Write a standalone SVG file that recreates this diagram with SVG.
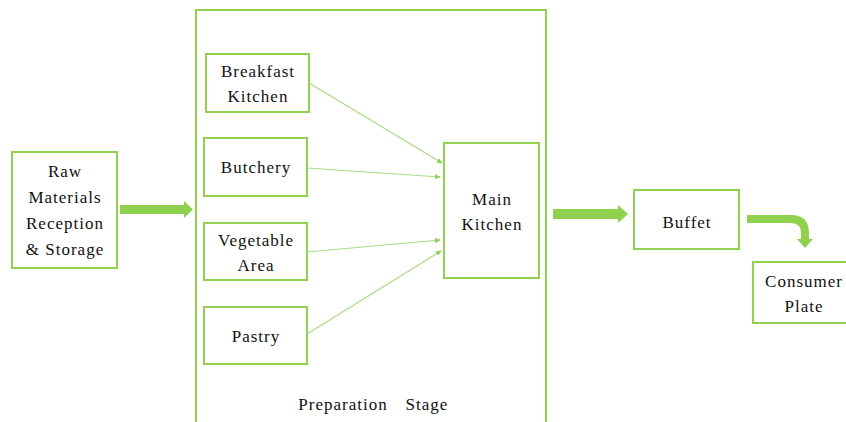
<svg xmlns="http://www.w3.org/2000/svg" width="846" height="422" viewBox="0 0 846 422">
<defs>
<marker id="ah" markerWidth="6" markerHeight="6" refX="5" refY="3" orient="auto" markerUnits="userSpaceOnUse">
<path d="M0,0.5 L6,3 L0,5.5 Z" fill="#8fd14f"/>
</marker>
</defs>
<rect width="846" height="422" fill="#fff"/>
<g fill="#fff" stroke="#92d050" stroke-width="2">
<g id="prep">
<path fill="none" d="M196,424 L196,10 L546,10 L546,424"/>
</g>
<g id="raw">
<rect x="12" y="152" width="105" height="116"/>
</g>
<g id="breakfast">
<rect x="206" y="54" width="103" height="58"/>
</g>
<g id="butchery">
<rect x="204" y="138" width="103" height="58"/>
</g>
<g id="vegetable">
<rect x="204" y="223" width="103" height="57"/>
</g>
<g id="pastry">
<rect x="204" y="307" width="103" height="57"/>
</g>
<g id="main">
<rect x="444" y="143" width="95" height="135"/>
</g>
<g id="buffet">
<rect x="634" y="190" width="105" height="59"/>
</g>
<g id="consumer">
<rect x="753" y="262" width="100" height="61"/>
</g>
</g>
<g id="labels" font-size="17" fill="#111" text-anchor="middle" letter-spacing="1">
<text font-family="Liberation Serif" x="343" y="410">Preparation</text>
<text font-family="Liberation Serif" x="427" y="410">Stage</text>
<text font-family="Liberation Serif" x="65" y="177">Raw</text>
<text font-family="Liberation Serif" x="65" y="203">Materials</text>
<text font-family="Liberation Serif" x="65" y="229">Reception</text>
<text font-family="Liberation Serif" x="65" y="255">&amp; Storage</text>
<text font-family="Liberation Serif" x="258" y="77">Breakfast</text>
<text font-family="Liberation Serif" x="258" y="102">Kitchen</text>
<text font-family="Liberation Serif" x="256" y="173">Butchery</text>
<text font-family="Liberation Serif" x="256" y="246">Vegetable</text>
<text font-family="Liberation Serif" x="256" y="271">Area</text>
<text font-family="Liberation Serif" x="256" y="342">Pastry</text>
<text font-family="Liberation Serif" x="492" y="205">Main</text>
<text font-family="Liberation Serif" x="492" y="230">Kitchen</text>
<text font-family="Liberation Serif" x="687" y="228">Buffet</text>
<text font-family="Liberation Serif" x="804" y="287">Consumer</text>
<text font-family="Liberation Serif" x="804" y="312">Plate</text>
</g>
<g id="connectors">
<g stroke="#a8db88" stroke-width="1.2" fill="none" marker-end="url(#ah)">
<path d="M309,83 L442,163"/>
<path d="M307,168 L440,177"/>
<path d="M307,252 L440,240"/>
<path d="M307,334 L441,251"/>
</g>
<g fill="#8fd14f">
<polygon points="120,205 184,205 184,201 193,209.5 184,218 184,214 120,214"/>
<polygon points="553,209 618,209 618,205 628,214 618,223 618,219 553,219"/>
<path d="M747,219 L791,219 Q805,219 805,233 L805,240" fill="none" stroke="#8fd14f" stroke-width="8"/>
<polygon points="797,239 813,239 805,248"/>
</g>
</g>
</svg>
